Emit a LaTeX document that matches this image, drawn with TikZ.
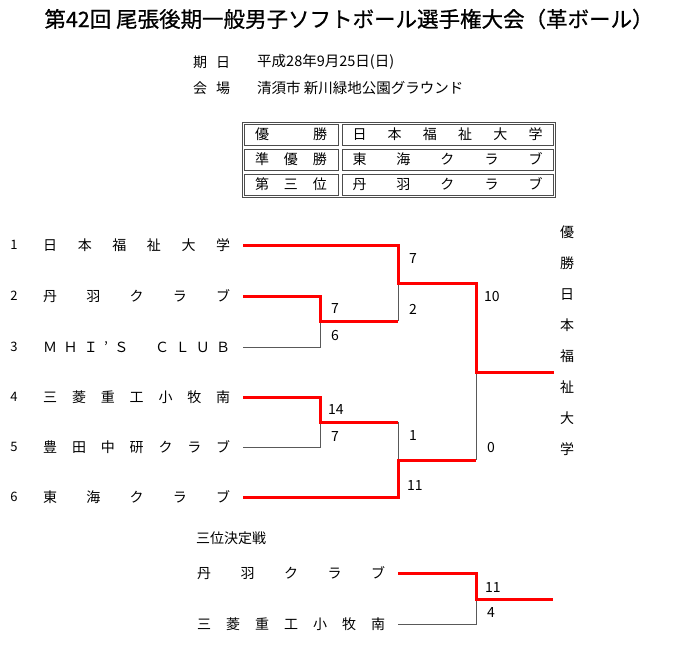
\documentclass[tikz,border=0pt]{standalone}
\usepackage{fontspec}
\setmainfont{Noto Sans CJK JP}
\newfontfamily\titlefont{Noto Sans CJK JP}[FakeBold=0.7]

\newcommand{\spreadtext}[2]{\makebox[#1][s]{#2}}

\tikzset{
  win/.style={draw=red,line width=3pt},
  lose/.style={draw=black!65,line width=1pt},
  team/.style={anchor=west,inner sep=0pt,font=\fontsize{14}{16}\selectfont},
  seed/.style={inner sep=0pt,font=\fontsize{13}{15}\selectfont},
  score/.style={anchor=west,inner sep=0pt,font=\fontsize{14}{16}\selectfont},
  cell/.style={draw=black!70,line width=0.8pt,minimum height=21pt,inner sep=0pt,font=\fontsize{14}{16}\selectfont},
}

\begin{document}
\begin{tikzpicture}[x=1pt,y=-1pt]
        \useasboundingbox (0,0) rectangle (700,650);

        % heading
        \node[font=\titlefont\fontsize{21.5}{24}\selectfont] (title) at (349,19) {第42回 尾張後期一般男子ソフトボール選手権大会（革ボール）};
        \node[team] (daylbl) at (193,62) {\spreadtext{37pt}{期 日}};
        \node[team,font=\fontsize{14.5}{16}\selectfont] (day) at (257,62) {平成28年9月25日(日)};
        \node[team] (placelbl) at (193,88) {\spreadtext{37pt}{会 場}};
        \node[team,font=\fontsize{14.5}{16}\selectfont] (place) at (257,88) {清須市 新川緑地公園グラウンド};

        % result table
        \draw[black!70,line width=0.8pt] (242,122) rectangle (555,197);
        \node[cell,minimum width=94pt] (rank1) at (291,134.5) {\spreadtext{72pt}{優 勝}};
        \node[cell,minimum width=211pt] (club1) at (447.5,134.5) {\spreadtext{190pt}{日 本 福 祉 大 学}};
        \node[cell,minimum width=94pt] (rank2) at (291,159.5) {\spreadtext{72pt}{準 優 勝}};
        \node[cell,minimum width=211pt] (club2) at (447.5,159.5) {\spreadtext{190pt}{東 海 ク ラ ブ}};
        \node[cell,minimum width=94pt] (rank3) at (291,184.5) {\spreadtext{72pt}{第 三 位}};
        \node[cell,minimum width=211pt] (club3) at (447.5,184.5) {\spreadtext{190pt}{丹 羽 ク ラ ブ}};

        % teams
        \node[seed] (k1) at (14,245) {1};
        \node[seed] (k2) at (14,296) {2};
        \node[seed] (k3) at (14,347) {3};
        \node[seed] (k4) at (14,397) {4};
        \node[seed] (k5) at (14,447) {5};
        \node[seed] (k6) at (14,497) {6};

        \node[team] (n1) at (43,245) {\spreadtext{187pt}{日 本 福 祉 大 学}};
        \node[team] (n2) at (43,296) {\spreadtext{187pt}{丹 羽 ク ラ ブ}};
        \node[team] (n3) at (43,347) {\spreadtext{187pt}{Ｍ Ｈ Ｉ ’ Ｓ 　 Ｃ Ｌ Ｕ Ｂ}};
        \node[team] (n4) at (43,397) {\spreadtext{187pt}{三 菱 重 工 小 牧 南}};
        \node[team] (n5) at (43,447) {\spreadtext{187pt}{豊 田 中 研 ク ラ ブ}};
        \node[team] (n6) at (43,497) {\spreadtext{187pt}{東 海 ク ラ ブ}};

        \coordinate (e1) at (243,245);
        \coordinate (e2) at (243,296);
        \coordinate (e3) at (243,347);
        \coordinate (e4) at (243,397);
        \coordinate (e5) at (243,447);
        \coordinate (e6) at (243,497);

        \coordinate (m1) at (320,321);
        \coordinate (m2) at (320,422);
        \coordinate (s1) at (398,283);
        \coordinate (s2) at (398,460);
        \coordinate (fin) at (476,372);
        \coordinate (champ) at (554,372);

        % losing lines
        \draw[lose] (e3) -| (m1);
        \draw[lose] (e5) -| (m2);
        \draw[lose] (s1) -- (m1 -| s1);
        \draw[lose] (m2 -| s2) -- (s2);
        \draw[lose] (fin) -- (s2 -| fin);

        % winning lines
        \draw[win] (e2) -| (m1) -- (m1 -| s1);
        \draw[win] (e4) -| (m2) -- (m2 -| s2);
        \draw[win] (e1) -| (s1) -| (fin) -- (champ);
        \draw[win] (e6) -| (s2) -- (s2 -| fin);

        % scores
        \node[score] (a1) at (331,309) {7};
        \node[score] (a2) at (331,336) {6};
        \node[score] (b1) at (328,410) {14};
        \node[score] (b2) at (331,437) {7};
        \node[score] (c1) at (409,259) {7};
        \node[score] (c2) at (409,309) {2};
        \node[score] (d1) at (409,436) {1};
        \node[score] (d2) at (407,486) {11};
        \node[score] (f1) at (484,297) {10};
        \node[score] (f2) at (487,448) {0};

        % champion
        \node[inner sep=0pt,align=center,font=\fontsize{14}{31}\selectfont] (winner) at (567,340.5) {優\\勝\\日\\本\\福\\祉\\大\\学};

        % third place
        \node[team] (bronze) at (196,538) {三位決定戦};
        \node[team] (n7) at (197,573) {\spreadtext{188pt}{丹 羽 ク ラ ブ}};
        \node[team] (n8) at (197,624) {\spreadtext{188pt}{三 菱 重 工 小 牧 南}};

        \coordinate (e7) at (398,573);
        \coordinate (e8) at (398,624);
        \coordinate (m3) at (476,599);
        \coordinate (third) at (553,599);

        \draw[lose] (e8) -| (m3);
        \draw[win] (e7) -| (m3) -- (third);

        \node[score] (g1) at (485,587) {11};
        \node[score] (g2) at (487,612) {4};
      \end{tikzpicture}
\end{document}
